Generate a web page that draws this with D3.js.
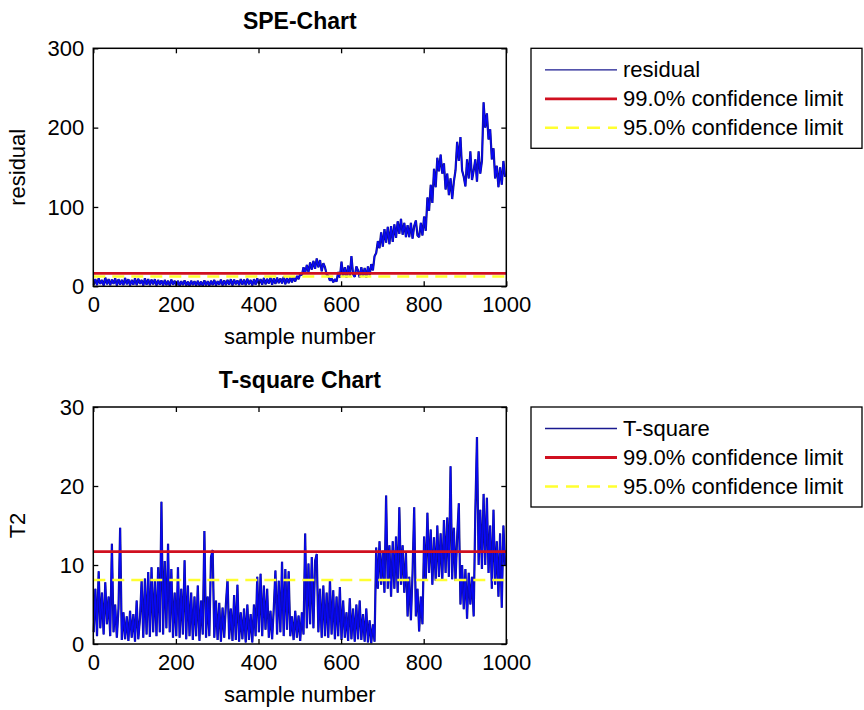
<!DOCTYPE html>
<html>
<head>
<meta charset="utf-8">
<script src="https://cdn.jsdelivr.net/npm/d3@7"></script>
<style>
    body { margin: 0; background: #fff; }
    svg text { font-family: "Liberation Sans", Arial, sans-serif; fill: #000; }
</style>
</head>
<body>
<div id="chart"></div>
<script>
// sample numbers (every 4th sample)
let samples = d3.range(1, 1001, 4);

// SPE residual
let speValues = [
    2, 9, 1.5, 10, 3, 8, 1, 11, 2.5, 9,
    1.5, 8.5, 3, 10, 1, 9, 2, 8, 1.5, 10.5,
    2.5, 9, 1, 8, 2, 10, 1.5, 9.5, 3, 8,
    1, 10, 2, 9, 1.5, 8.5, 2.5, 9, 1, 8,
    2, 7.5, 1, 8, 1.5, 7, 0.8, 8.5, 2, 7,
    1, 7, 0.5, 6.5, 1.5, 7.5, 1, 6, 0.5, 7,
    1.5, 6.5, 0.8, 7, 1, 6, 0.5, 7.5, 1.2, 6.5,
    0.8, 7, 1.5, 8, 1, 6.5, 2, 8.5, 1, 7.5,
    1.5, 8, 2, 9, 1, 8.5, 2.5, 7.5, 1.5, 9,
    2, 8.5, 1.5, 9.5, 2.5, 8, 1, 9, 2, 10,
    3, 9, 2, 10.5, 2.5, 9.5, 3.5, 11, 2, 10,
    3, 11, 4, 10, 3.5, 12, 2.5, 10.5, 4, 11.5,
    5, 12, 6, 13, 9, 16, 14, 24, 17, 27,
    18, 30, 21, 32, 22, 35, 24, 33, 19, 29,
    24, 15, 13, 7, 10, 5, 9, 6, 18, 11,
    31, 12, 24, 11, 26, 13, 38, 15, 12, 25,
    20, 11, 24, 12, 23, 11, 25, 14, 28, 20,
    38, 42, 57, 48, 68, 50, 72, 55, 75, 53,
    76, 56, 78, 61, 82, 66, 85, 65, 80, 62,
    77, 62, 80, 60, 76, 83, 64, 62, 80, 64,
    88, 70, 112, 95, 128, 105, 148, 125, 162, 145,
    166, 142, 155, 122, 142, 115, 136, 110, 132, 146,
    182, 158, 188, 146, 138, 126, 160, 136, 170, 134,
    146, 160, 132, 170, 142, 158, 232, 200, 218, 185,
    198, 160, 174, 136, 152, 125, 150, 128, 158, 138
];

// Hotelling T2
let t2Values = [
    1.5, 7, 1, 9.2, 2, 6.5, 1.2, 7.8, 2.5, 6,
    1, 12.7, 1.5, 5, 0.8, 4.5, 14.7, 0.5, 4, 0.6,
    3.5, 0.4, 4.2, 0.8, 3.8, 0.3, 5.5, 0.6, 3.2, 8,
    0.8, 8.3, 1.2, 9.1, 0.9, 9.7, 1.5, 8, 1, 9.7,
    1.5, 18, 1.2, 10.5, 2, 12.7, 1.5, 9.5, 0.8, 6.5,
    1, 9.7, 0.8, 7, 1.2, 10.6, 0.6, 7.4, 1, 6.5,
    0.5, 6, 1, 7.4, 0.4, 5.5, 1.2, 14.3, 0.8, 6,
    1, 11, 11.9, 0.8, 5.5, 0.5, 5.2, 0.3, 4.6, 0.8,
    5, 8.2, 0.6, 4.5, 0.4, 6.2, 0.5, 7.5, 0.3, 4,
    0.6, 4.5, 0.2, 5, 0.5, 3.8, 0.2, 5, 1, 8.5,
    1.5, 8.9, 1, 7.4, 1.8, 7, 0.8, 4.2, 0.6, 4.5,
    9.3, 1.2, 8, 1.5, 10.4, 1, 9.5, 1.8, 9.2, 1,
    3.5, 0.5, 4.2, 0.8, 3.6, 0.4, 4, 1.2, 14, 2,
    10.2, 2.5, 11, 2, 10.5, 11.4, 1.5, 7, 0.8, 7.4,
    1, 6.5, 0.8, 8.2, 1.2, 6.8, 0.6, 6, 1, 7.2,
    0.5, 5.5, 0.8, 4, 0.4, 5.8, 0.6, 4.5, 0.3, 5,
    0.6, 5.5, 0.5, 3.8, 0.3, 4.5, 0.2, 3, 0.1, 2.5,
    0.3, 12.2, 7, 13, 7.5, 11.8, 6.5, 18.8, 7, 12.5,
    6, 13, 7, 13.6, 6.5, 17.3, 7.5, 12.5, 6.5, 11.5,
    3.5, 8.5, 3, 9, 17.3, 3.5, 7, 1.6, 6, 2.5,
    13.6, 8, 16.6, 9, 14.5, 7.5, 13.5, 8, 15, 8.5,
    14, 8, 15.7, 9, 16, 8.5, 22.5, 8.2, 14.7, 8,
    13.5, 17.8, 5, 10, 4.4, 9.5, 3.2, 9, 5, 8.5,
    3.5, 16.7, 26.2, 10, 17, 9.5, 19, 10, 18.5, 9,
    15, 7, 17, 7.5, 13, 6, 14, 4.6, 15, 10
];

// [99% limit, 95% limit]
let speLimits = [16.4, 12.3];
let t2Limits = [11.7, 8.1];

let xTicks = [0, 200, 400, 600, 800, 1000];
let speTicks = [0, 100, 200, 300];
let t2Ticks = [0, 10, 20, 30];

let speLegend = ["residual", "99.0% confidence limit", "95.0% confidence limit"];
let t2Legend = ["T-square", "99.0% confidence limit", "95.0% confidence limit"];

let width = 864;
let height = 710;
let fontSize = 22;
let blue = "#0808f5";
let navy = "#12127a";
let red = "#d01020";
let yellow = "#ffff30";

let svg = d3.select("#chart").append("svg")
    .attr("width", width)
    .attr("height", height)
    .style("background", "#fff");

function drawPanel(p) {
    let left = 93.3, right = 506.3;
    let x = d3.scaleLinear().domain([0, 1000]).range([left, right]);
    let y = d3.scaleLinear().domain([0, p.yMax]).range([p.bottom, p.top]);

    let g = svg.append("g");

    // data line, dark under-stroke gives the jpeg-ish edge
    let line = d3.line()
        .x((d, i) => x(samples[i]))
        .y(d => y(d));
    g.append("path")
        .datum(p.values)
        .attr("d", line)
        .attr("fill", "none")
        .attr("stroke", navy)
        .attr("stroke-width", 2.2)
        .attr("stroke-linejoin", "bevel");
    g.append("path")
        .datum(p.values)
        .attr("d", line)
        .attr("fill", "none")
        .attr("stroke", blue)
        .attr("stroke-width", 1.3)
        .attr("stroke-linejoin", "bevel");

    // confidence limits
    g.append("line")
        .attr("x1", x(0)).attr("x2", x(1000))
        .attr("y1", y(p.limits[0])).attr("y2", y(p.limits[0]))
        .attr("stroke", red).attr("stroke-width", 2.8);
    g.append("line")
        .attr("x1", x(0)).attr("x2", x(1000))
        .attr("y1", y(p.limits[1])).attr("y2", y(p.limits[1]))
        .attr("stroke", yellow).attr("stroke-width", 2.6)
        .attr("stroke-dasharray", "12,7");

    // axes, ticks pointing inward like matlab
    g.append("g")
        .attr("transform", `translate(0,${p.bottom})`)
        .call(d3.axisBottom(x).tickValues(xTicks).tickFormat(d3.format("d"))
            .tickSizeInner(-5).tickSizeOuter(0).tickPadding(10));
    g.append("g")
        .attr("transform", `translate(${left},0)`)
        .call(d3.axisLeft(y).tickValues(p.yTicks).tickFormat(d3.format("d"))
            .tickSizeInner(-5).tickSizeOuter(0).tickPadding(9));
    g.append("g")
        .attr("transform", `translate(0,${p.top})`)
        .call(d3.axisTop(x).tickValues(xTicks).tickSizeInner(-5).tickSizeOuter(0).tickFormat(""));
    g.append("g")
        .attr("transform", `translate(${right},0)`)
        .call(d3.axisRight(y).tickValues(p.yTicks).tickSizeInner(-5).tickSizeOuter(0).tickFormat(""));

    g.selectAll(".domain").remove();
    g.selectAll(".tick line").attr("stroke", "#000").attr("stroke-width", 1.3);
    g.selectAll(".tick text")
        .attr("font-size", fontSize)
        .attr("font-family", "Liberation Sans, Arial, sans-serif");

    g.append("rect")
        .attr("x", left).attr("y", p.top)
        .attr("width", right - left).attr("height", p.bottom - p.top)
        .attr("fill", "none").attr("stroke", "#000").attr("stroke-width", 1.5);

    // title and labels
    g.append("text")
        .attr("x", (left + right) / 2).attr("y", p.top - 19)
        .attr("text-anchor", "middle")
        .attr("font-size", 23).attr("font-weight", "bold")
        .text(p.title);
    g.append("text")
        .attr("x", (left + right) / 2).attr("y", p.bottom + 58)
        .attr("text-anchor", "middle")
        .attr("font-size", fontSize)
        .text("sample number");
    g.append("text")
        .attr("transform", `translate(25,${(p.top + p.bottom) / 2}) rotate(-90)`)
        .attr("text-anchor", "middle")
        .attr("font-size", fontSize)
        .text(p.ylabel);

    // legend
    let lg = g.append("g").attr("transform", `translate(531,${p.top})`);
    lg.append("rect")
        .attr("width", 331).attr("height", 100)
        .attr("fill", "#fff").attr("stroke", "#000").attr("stroke-width", 1.3);
    let styles = [
        {stroke: "#1a1a90", w: 1.3, dash: null},
        {stroke: red, w: 2.8, dash: null},
        {stroke: yellow, w: 2.6, dash: "13,8"}
    ];
    p.legend.forEach((label, i) => {
        let ry = 21.5 + i * 29;
        lg.append("line")
            .attr("x1", 14).attr("x2", 86)
            .attr("y1", ry).attr("y2", ry)
            .attr("stroke", styles[i].stroke)
            .attr("stroke-width", styles[i].w)
            .attr("stroke-dasharray", styles[i].dash);
        lg.append("text")
            .attr("x", 92).attr("y", ry)
            .attr("dy", "0.35em")
            .attr("font-size", fontSize)
            .text(label);
    });
}

drawPanel({
    top: 48.3, bottom: 286.3, yMax: 300,
    values: speValues, limits: speLimits, yTicks: speTicks,
    title: "SPE-Chart", ylabel: "residual", legend: speLegend
});
drawPanel({
    top: 407, bottom: 644, yMax: 30,
    values: t2Values, limits: t2Limits, yTicks: t2Ticks,
    title: "T-square Chart", ylabel: "T2", legend: t2Legend
});
</script>
</body>
</html>
